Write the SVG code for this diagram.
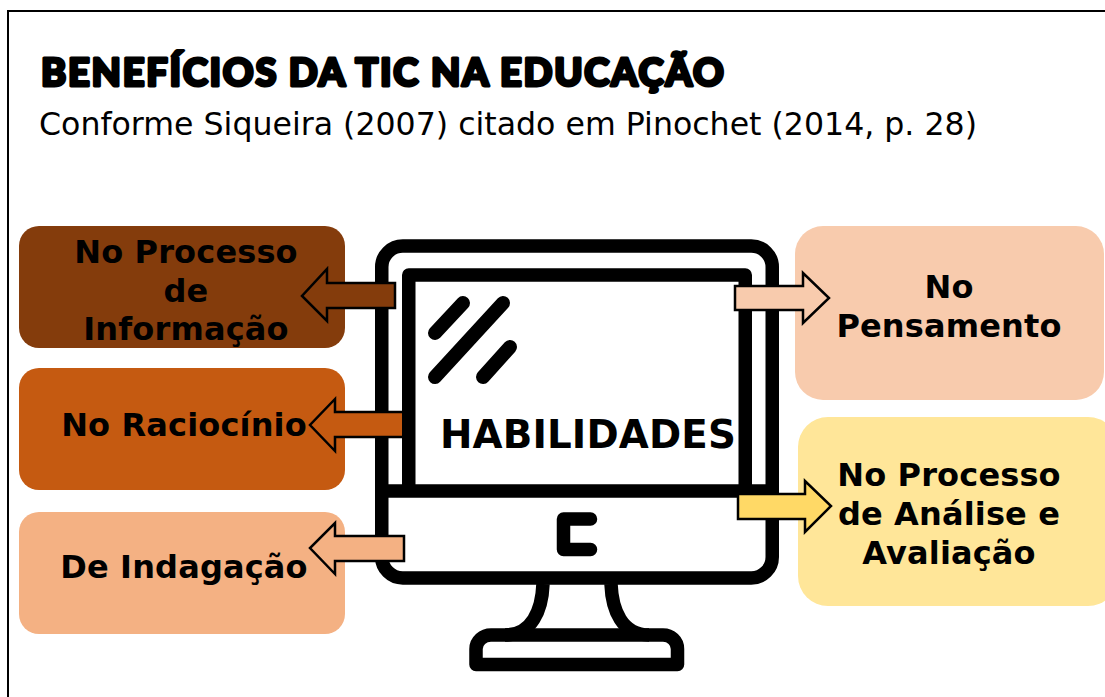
<svg xmlns="http://www.w3.org/2000/svg" width="1105" height="697" viewBox="0 0 1105 697">
<style>
.lbl{font-family:"DejaVu Sans",Verdana,sans-serif;font-weight:700;font-size:32px;letter-spacing:.15px;fill:#000;text-anchor:middle}
.sub{font-family:"DejaVu Sans",Verdana,sans-serif;font-size:31.6px;fill:#000}
.ttl{font-family:"Lato","Open Sans",sans-serif;font-weight:900;font-size:38px;letter-spacing:1.75px;fill:#000;stroke:#000;stroke-width:3px;stroke-linejoin:round}
.ar{stroke:#000;stroke-width:2.5;stroke-linejoin:miter}
.m{fill:none;stroke:#000;stroke-width:13.5;stroke-linejoin:round}
.g{fill:none;stroke:#000;stroke-width:14;stroke-linecap:round}
</style>
<rect x="8" y="11" width="1110" height="700" fill="#fff" stroke="#000" stroke-width="2"/>
<g id="title"><text class="ttl" x="41" y="86">BENEFÍCIOS DA TIC NA EDUCAÇÃO</text></g>
<g id="subtitle"><text class="sub" x="39" y="135">Conforme Siqueira (2007) citado em Pinochet (2014, p. 28)</text></g>
<g id="monitor">
<rect class="m" x="381.750" y="246" width="390.500" height="332" rx="21"/>
<path class="m" d="M408.750 491V275H745.250V491"/>
<path class="m" d="M381.750 491H772.250"/>
<path class="m" stroke-linecap="round" d="M590.500 519H563.500V549.500H590.500"/>
<path class="m" d="M543 584C542 610 532 635 505 635M611 584C612 610 622 635 649 635"/>
<path class="m" d="M491 635H663C671 635 677.500 641 677.500 649V664.500H476V649C476 641 483 635 491 635Z"/>
<path class="g" d="M463 303L435 333M503 303L435 377M510 347L483 377"/>
</g>
<g id="box-informacao"><rect x="19" y="226" width="326" height="122" rx="20" fill="#843C0C"/>
<text class="lbl" x="186" y="263">No Processo</text><text class="lbl" x="186" y="302">de</text><text class="lbl" x="186" y="340">Informação</text></g>
<g id="box-raciocinio"><rect x="19" y="368" width="326" height="122" rx="20" fill="#C55A11"/>
<text class="lbl" x="184" y="436">No Raciocínio</text></g>
<g id="box-indagacao"><rect x="19" y="512" width="326" height="122" rx="20" fill="#F4B183"/>
<text class="lbl" x="184" y="578">De Indagação</text></g>
<g id="box-pensamento"><rect x="795" y="226" width="309" height="174" rx="28" fill="#F8CBAD"/>
<text class="lbl" x="949" y="298">No</text><text class="lbl" x="949" y="337">Pensamento</text></g>
<g id="box-analise"><rect x="798" y="417" width="320" height="189" rx="30" fill="#FFE699"/>
<text class="lbl" x="949" y="486">No Processo</text><text class="lbl" x="949" y="525">de Análise e</text><text class="lbl" x="949" y="564">Avaliação</text></g>
<g id="habilidades"><text class="lbl" x="588" y="448" style="font-size:38.800px">HABILIDADES</text></g>
<g id="connectors">
<path class="ar" fill="#843C0C" d="M395 283H327V269L302 296L327 321V308H395Z"/>
<path class="ar" fill="#C55A11" d="M402 412H335V399L310 425L335 451V437H402"/>
<path class="ar" fill="#F4B183" d="M404 536H335V523L310 548L335 574V561H404Z"/>
<path class="ar" fill="#F8CBAD" d="M735 286H803V273L829 298L803 323V310H735Z"/>
<path class="ar" fill="#FFD966" d="M738 494H805V481L831 506L805 532V519H738Z"/>
</g>
</svg>
